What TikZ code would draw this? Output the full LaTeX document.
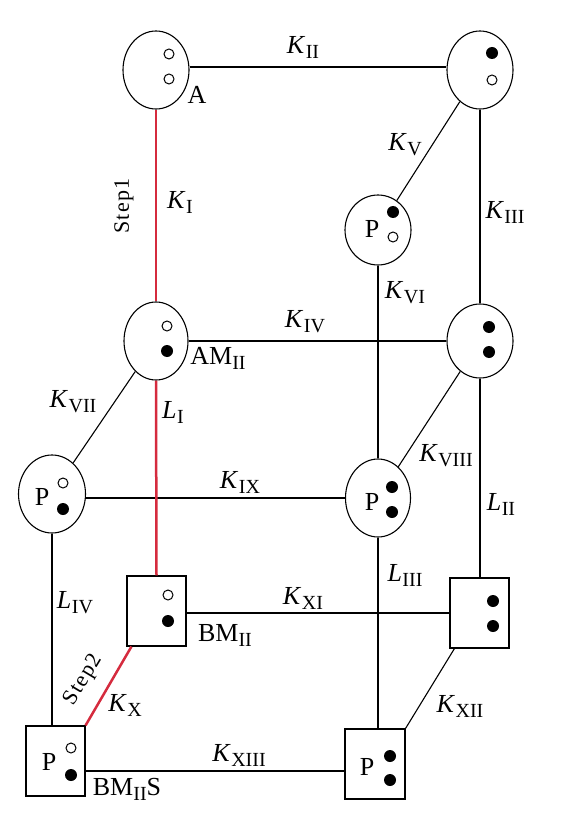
\documentclass[tikz,border=0pt]{standalone}
\usepackage{fontspec}
\setmainfont{Liberation Serif}
\newfontfamily\stepfont[LetterSpace=6]{Liberation Serif}
\usetikzlibrary{shapes.geometric}
\definecolor{stepred}{RGB}{213,43,62}
\newcommand\subr[1]{\raisebox{-5pt}{\fontsize{20}{20}\selectfont #1}}
\newcommand\lab[2]{\textit{#1}\kern0.5pt\subr{#2}}
\begin{document}
\begin{tikzpicture}[x=1pt,y=-1pt,
  every node/.style={inner sep=0pt},
  lbl/.style={font=\fontsize{26}{29}\selectfont},
  steplbl/.style={font=\fontsize{22}{24}\stepfont},
  ell/.style={draw, ellipse, line width=1.1pt, minimum width=66pt, minimum height=78pt},
  sq/.style={draw, rectangle, line width=1.1pt, minimum width=59pt, minimum height=70pt},
  wd/.style={circle, draw, line width=1pt, minimum size=10pt},
  bd/.style={circle, fill=black, minimum size=12pt},
  con/.style={line width=1.1pt},
  stepline/.style={line width=2.5pt, draw=stepred},
]
\useasboundingbox (0,0) rectangle (565,826);

% states
\node[ell] (A) at (156,70) {};
\node[wd] (A1) at (169,54) {};
\node[wd] (A2) at (169,79) {};

\node[ell] (TR) at (480,70) {};
\node[bd] (TR1) at (492,53) {};
\node[wd] (TR2) at (492,80) {};

\node[ell, minimum height=70pt] (PU) at (378,230) {};
\node[bd] (PU1) at (393,212) {};
\node[wd] (PU2) at (393,237) {};
\node[lbl] (PUt) at (372,229) {P};

\node[ell, minimum width=64pt] (AM) at (156,341) {};
\node[wd] (AM1) at (167,326) {};
\node[bd] (AM2) at (167,351) {};

\node[ell, minimum height=74pt] (R) at (480,341) {};
\node[bd] (R1) at (489,327) {};
\node[bd] (R2) at (489,352) {};

\node[ell, minimum width=67pt] (PL) at (52,494) {};
\node[wd] (PL1) at (63,483) {};
\node[bd] (PL2) at (63,509) {};
\node[lbl] (PLt) at (42,497) {P};

\node[ell, minimum width=65pt] (PM) at (378,498) {};
\node[bd] (PM1) at (392,487) {};
\node[bd] (PM2) at (392,512) {};
\node[lbl] (PMt) at (372,502) {P};

\node[sq] (BM) at (156.5,611) {};
\node[wd] (BM1) at (168,595) {};
\node[bd] (BM2) at (168,621) {};

\node[sq] (RB) at (479.5,613) {};
\node[bd] (RB1) at (493,601) {};
\node[bd] (RB2) at (493,626) {};

\node[sq] (BMS) at (55.5,761) {};
\node[wd] (BMS1) at (71,748) {};
\node[bd] (BMS2) at (71,775) {};
\node[lbl] (BMSt) at (49,762) {P};

\node[sq, minimum width=60pt] (PB) at (375,764) {};
\node[bd] (PB1) at (390,756) {};
\node[bd] (PB2) at (390,780) {};
\node[lbl] (PBt) at (367,767) {P};

% black connectors
\draw[con] ([yshift=3pt]A.east) -- ([yshift=3pt]TR.west);
\draw[con] (TR) -- (PU);
\draw[con] (TR) -- (R);
\draw[con] (AM) -- (R);
\draw[con] (PU.south) -- (PM.north);
\draw[con] (AM) -- (PL);
\draw[con] (R) -- (PM);
\draw[con] (PM.west) -- (PM.west -| PL.east);
\draw[con] (R.south) -- (R.south |- RB.north);
\draw[con] (PM.south) -- (PM.south |- PB.north);
\draw[con] (RB.west) -- (RB.west -| BM.east);
\draw[con] (PL.south) -- (PL.south |- BMS.north);
\draw[con] ([xshift=5pt]RB.south west) -- (PB.north east);
\draw[con] ([yshift=-10pt]BMS.east) -- ([yshift=-10pt]BMS.east -| PB.west);

% red step connectors
\draw[stepline] (A.south) -- (AM.north);
\draw[stepline] (AM.south) -- (BM.north);
\draw[stepline] (BMS.north east) -- ([xshift=5pt]BM.south west);

% labels
\node[lbl] (lKII) at (303,47) {\lab{K}{II}};
\node[lbl] (lA) at (197,95) {A};
\node[lbl] (lKI) at (180,202) {\lab{K}{I}};
\node[steplbl, rotate=90] (lS1) at (124,206) {Step1};
\node[lbl] (lKV) at (405,145) {\lab{K}{V}};
\node[lbl] (lKIII) at (505,212) {\lab{K}{III}};
\node[lbl] (lKVI) at (405,293) {\lab{K}{VI}};
\node[lbl] (lKIV) at (305,322) {\lab{K}{IV}};
\node[lbl] (lAM) at (218,358) {AM\subr{II}};
\node[lbl] (lKVII) at (73,402) {\lab{K}{VII}};
\node[lbl] (lLI) at (173,412) {\lab{L}{I}};
\node[lbl] (lKVIII) at (446,456) {\lab{K}{VIII}};
\node[lbl] (lKIX) at (240,482) {\lab{K}{IX}};
\node[lbl] (lLII) at (501,504) {\lab{L}{II}};
\node[lbl] (lLIV) at (75,603) {\lab{L}{IV}};
\node[lbl] (lLIII) at (405,575) {\lab{L}{III}};
\node[lbl] (lKXI) at (303,598) {\lab{K}{XI}};
\node[lbl] (lBM) at (225,635) {BM\subr{II}};
\node[lbl] (lKX) at (125,705) {\lab{K}{X}};
\node[steplbl, rotate=59] (lS2) at (84,680) {Step2};
\node[lbl] (lKXII) at (460,706) {\lab{K}{XII}};
\node[lbl] (lKXIII) at (239,755) {\lab{K}{XIII}};
\node[lbl] (lBMS) at (127,789) {BM\subr{II}S};
\end{tikzpicture}
\end{document}
